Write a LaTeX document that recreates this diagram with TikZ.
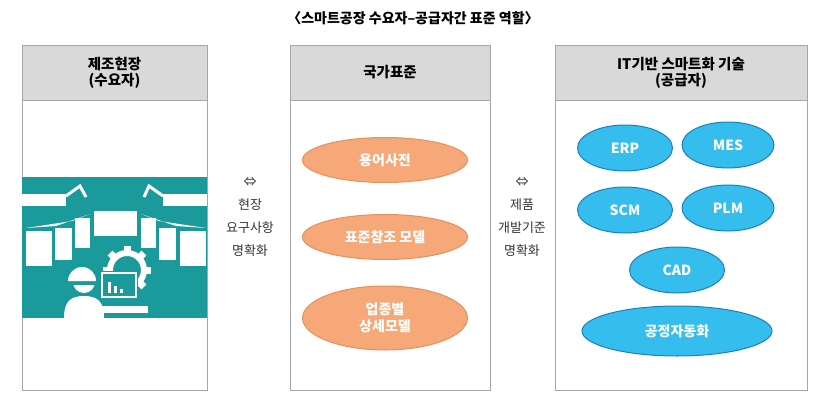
\documentclass[tikz,border=0pt]{standalone}
\usepackage{fontspec}
\setmainfont{Noto Sans CJK KR}
\usetikzlibrary{shapes.geometric}
\definecolor{headgray}{HTML}{D9D9D9}
\definecolor{teal1}{HTML}{1A9A9A}
\definecolor{orfill}{HTML}{F6A878}
\definecolor{orline}{HTML}{E8905A}
\definecolor{blfill}{HTML}{35BDEE}
\definecolor{blline}{HTML}{1A80C0}
\tikzset{
  panel/.style={draw=gray!70,line width=.8pt},
  head/.style={draw=gray!70,line width=.8pt,fill=headgray},
  headtext/.style={font=\fontsize{14.5}{16}\selectfont\bfseries,align=center},
  stdell/.style={ellipse,draw=orline,fill=orfill,line width=1pt,text=white,font=\fontsize{14}{17}\selectfont\bfseries,align=center},
  techell/.style={ellipse,draw=blline,fill=blfill,line width=1pt,text=white,font=\fontsize{14}{17}\selectfont\bfseries},
  midtext/.style={font=\fontsize{13}{23}\selectfont,align=center,text=black!80}
}
\begin{document}
\begin{tikzpicture}[x=1pt,y=-1pt]
	\useasboundingbox (0,0) rectangle (827,404);
	%title
	\node[font=\fontsize{14}{16}\selectfont\bfseries] (title) at (413,18) {〈스마트공장 수요자–공급자간 표준 역할〉};
	%panels
	\draw[panel] (22,45) rectangle (207,390);
	\draw[head] (22,45) rectangle (207,100);
	\node[headtext] (demand) at (114.5,72.5) {제조현장\\(수요자)};
	\draw[panel] (290,45) rectangle (490,390);
	\draw[head] (290,45) rectangle (490,100);
	\node[headtext] (national) at (390,72.5) {국가표준};
	\draw[panel] (555,45) rectangle (807,390);
	\draw[head] (555,45) rectangle (807,100);
	\node[headtext] (supply) at (681,72.5) {IT기반 스마트화 기술\\(공급자)};
	%between
	\node[midtext] (leftmid) at (250,217) {⇔\\현장\\요구사항\\명확화};
	\node[midtext] (rightmid) at (522,217) {⇔\\제품\\개발기준\\명확화};
	%standards
	\node[stdell,minimum width=165,minimum height=45] (terms) at (385,160) {용어사전};
	\node[stdell,minimum width=165,minimum height=45] (refmodel) at (385,237) {표준참조 모델};
	\node[stdell,minimum width=165,minimum height=64] (detail) at (385,318) {업종별\\상세모델};
	%technologies
	\node[techell,minimum width=95,minimum height=46] (erp) at (625,148) {ERP};
	\node[techell,minimum width=92,minimum height=46] (mes) at (728,145) {MES};
	\node[techell,minimum width=95,minimum height=46] (scm) at (625,210) {SCM};
	\node[techell,minimum width=92,minimum height=46] (plm) at (728,208) {PLM};
	\node[techell,minimum width=95,minimum height=46] (cad) at (677,270) {CAD};
	\node[techell,minimum width=190,minimum height=50] (auto) at (677,331) {공정자동화};
	%factory icon
	\fill[teal1] (22,177) rectangle (207,318);
	\begin{scope}[white]
		\fill (22,194) rectangle (66,206);
		\fill (163,194) rectangle (207,206);
		\draw[line width=3pt] (66,196) -- (80,186) -- (86,197);
		\draw[line width=3pt] (163,196) -- (149,186) -- (144,197);
		\fill (94,211) rectangle (137,236);
		\fill (26,231) rectangle (52,266);
		\fill (55,228) rectangle (72,260);
		\fill (75,218) rectangle (90,248);
		\fill (141,218) rectangle (156,248);
		\fill (159,228) rectangle (176,260);
		\fill (180,231) rectangle (206,266);
		\fill (26,228) -- (72,221) -- (90,214) -- (56,226) -- cycle;
		\fill (206,228) -- (159,221) -- (141,214) -- (176,226) -- cycle;
		%worker
		\fill (64,318) .. controls (64,302) and (70,296) .. (84,296) .. controls (98,296) and (104,302) .. (104,318) -- cycle;
		\fill (84,282) circle (11);
		\fill[teal1] (70,281) rectangle (98,285);
		\fill (68,281) arc (180:360:14) -- cycle;
		%gear
		\draw[line width=6pt] (127,270) circle (17);
		\foreach \a in {0,45,...,315}
			\fill[rotate around={\a:(127,270)}] (123.5,246) rectangle (130.5,256);
		%monitor
		\fill[teal1] (100,271) rectangle (138,299);
		\draw[line width=2pt] (102,273) rectangle (136,297);
		\fill (108,293) rectangle (111,282);
		\fill (114,293) rectangle (117,286);
		\fill (120,293) rectangle (123,289);
		\fill (100,306) rectangle (148,313);
	\end{scope}
\end{tikzpicture}
\end{document}
